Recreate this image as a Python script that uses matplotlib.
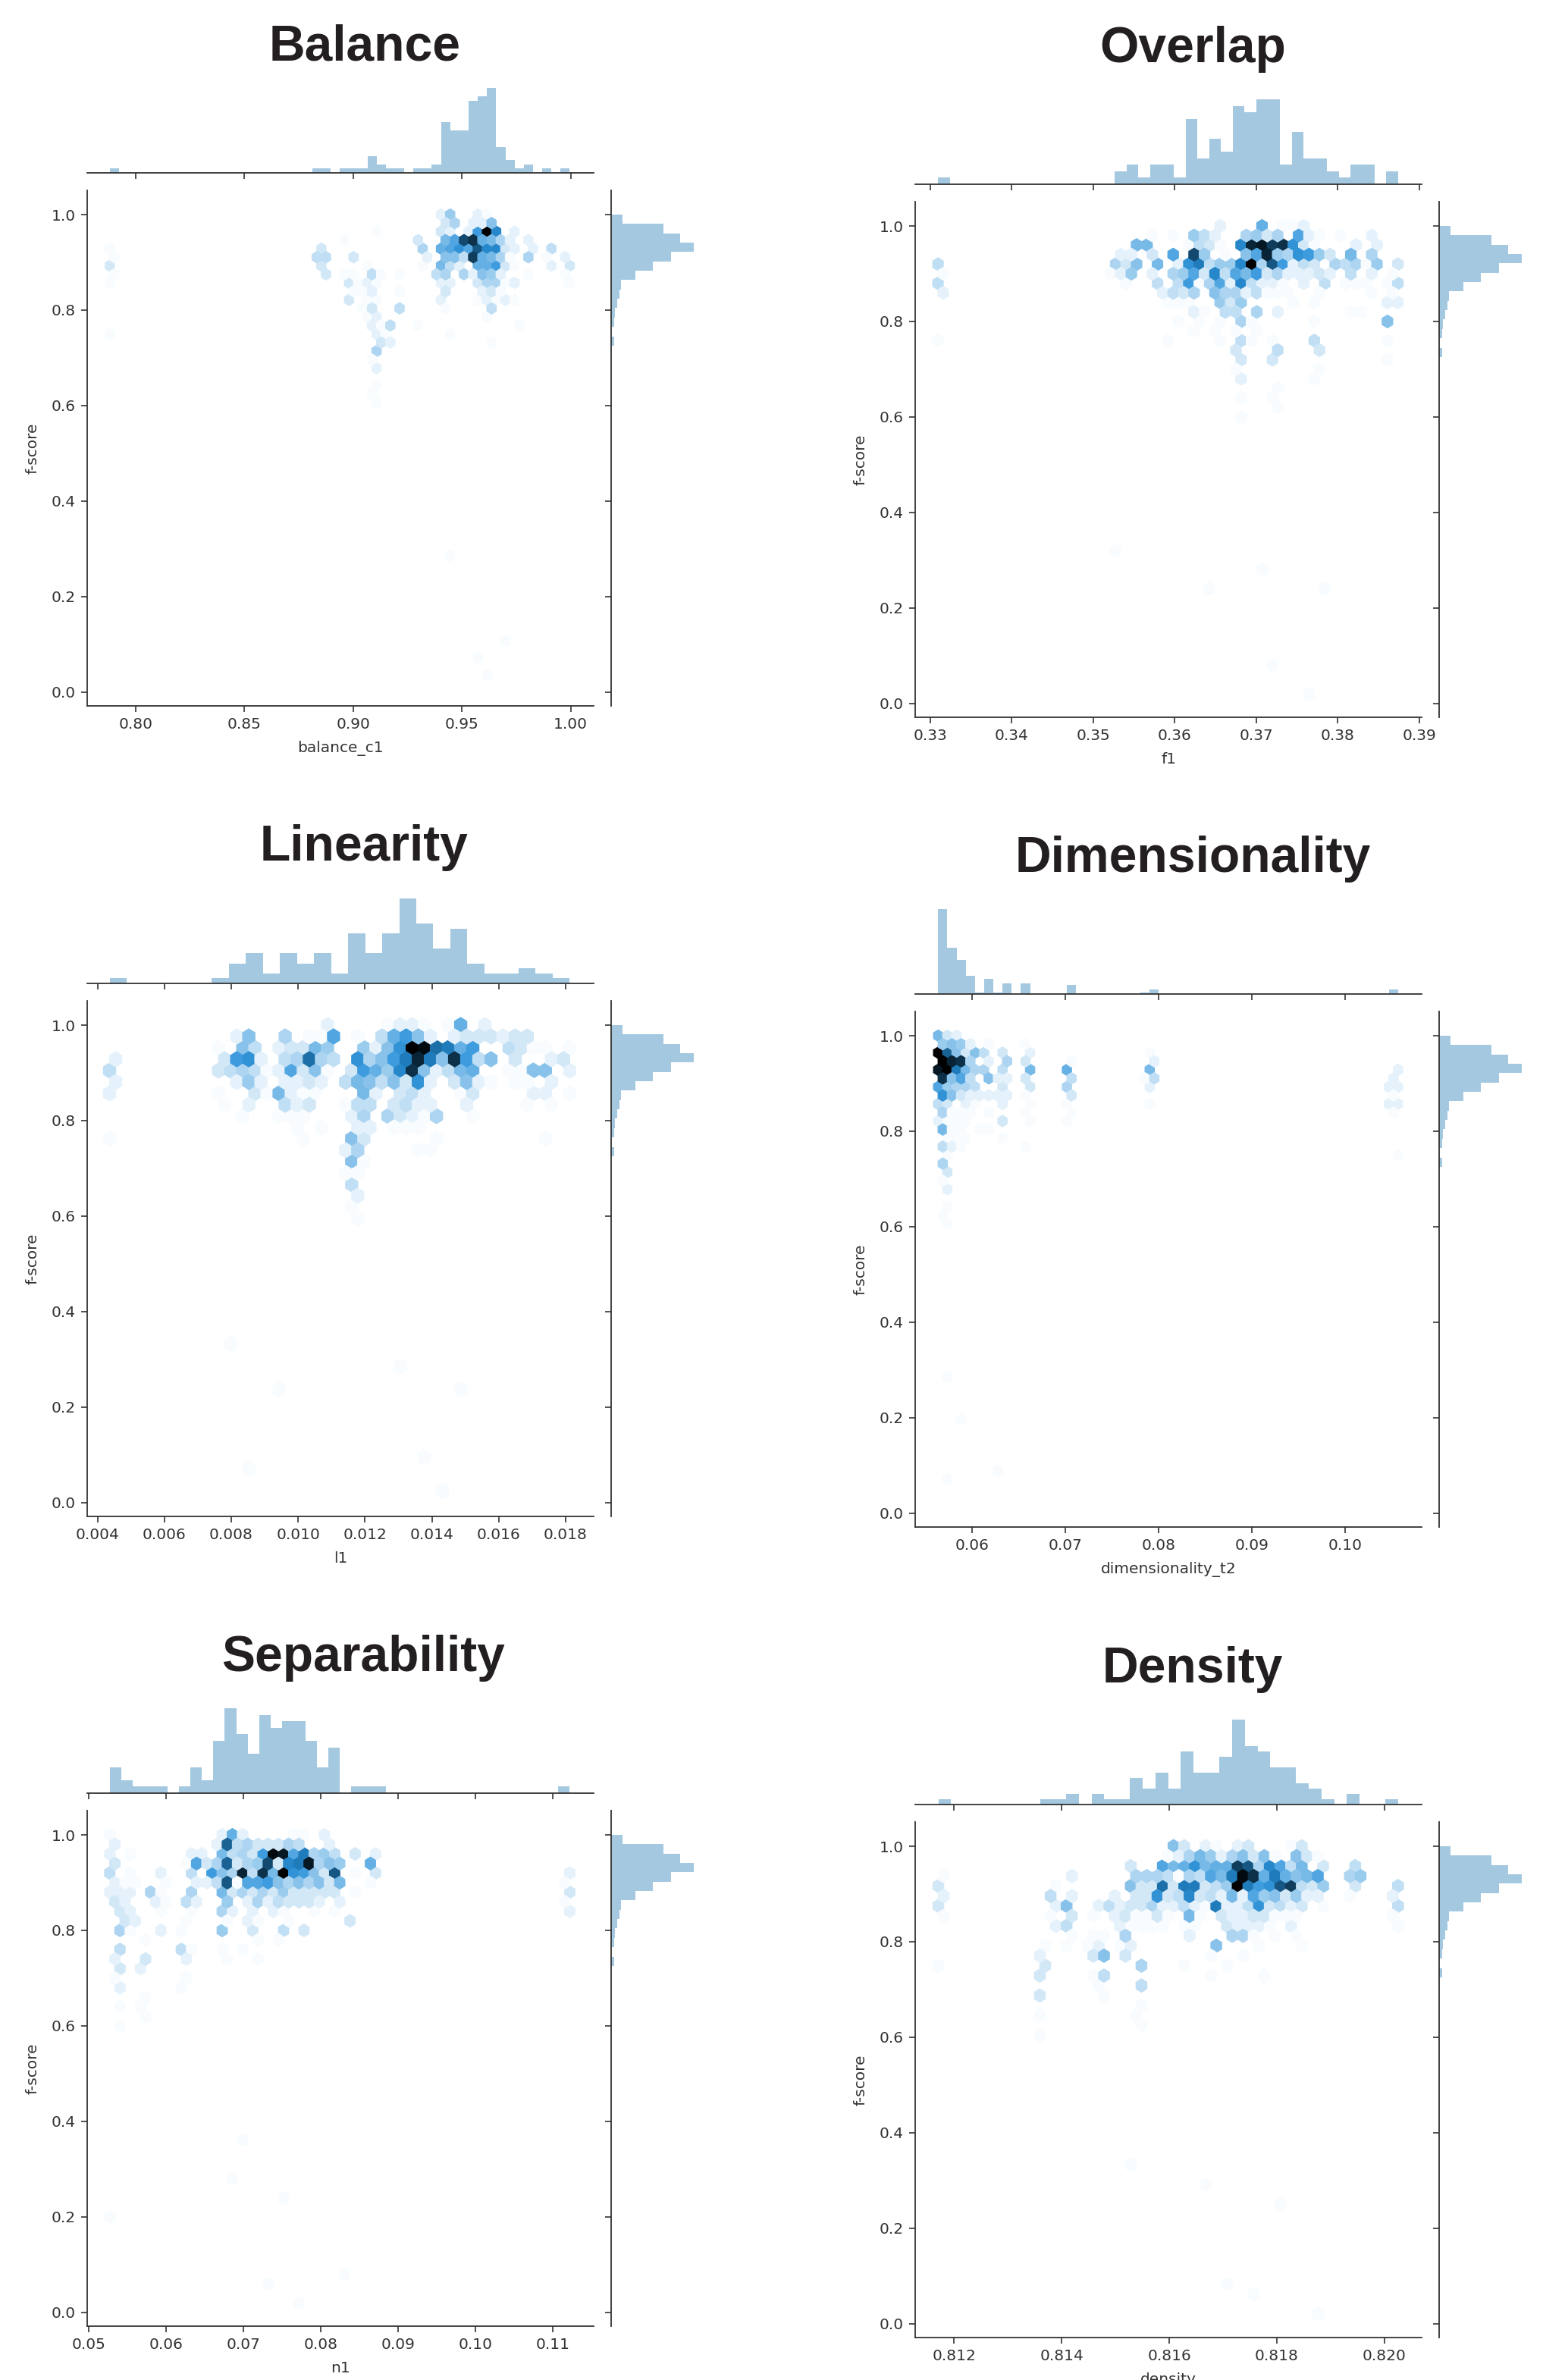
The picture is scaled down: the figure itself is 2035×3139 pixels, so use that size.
import colorsys

import matplotlib
matplotlib.use('Agg')
import matplotlib.pyplot as plt
import numpy as np
from matplotlib.colors import LinearSegmentedColormap, to_rgb

W, H = 2035, 3139
BLUE = '#1f77b4'
INK = '#333333'

# f-score histogram, the same in every panel, bins from 1.0 downwards
fscore_hist = [24, 109, 143, 171, 124, 87, 50, 21, 18, 12, 8, 6, 0, 6]
fscore_bin = 0.0196

# x histograms: counts per bin and the range the bins span
balance_hist = [1, 0, 0, 0, 0, 0, 0, 0, 0, 0, 0, 0, 0, 0, 0, 0, 0, 0, 0, 0, 0, 0, 1, 1, 0, 1, 1, 1, 4, 2,
                1, 1, 0, 1, 1, 2, 12, 10, 10, 17, 18, 20, 6, 3, 1, 2, 0, 1, 0, 1]
balance_range = (0.7882, 0.9996)
overlap_hist = [1, 0, 0, 0, 0, 0, 0, 0, 0, 0, 0, 0, 0, 0, 0, 2, 3, 1, 3, 3, 1, 10, 4, 7, 5, 12, 11, 13, 13, 3,
                8, 4, 4, 2, 1, 3, 3, 0, 2]
overlap_range = (0.33094, 0.38736)
linearity_hist = [1, 0, 0, 0, 0, 0, 1, 4, 6, 2, 6, 4, 6, 2, 10, 6, 10, 17, 12, 7, 11, 4, 2, 2, 3, 2, 1]
linearity_range = (0.00436, 0.01812)
dimension_hist = [57, 31, 23, 12, 1, 10, 1, 7, 0, 7, 0, 0, 0, 0, 6, 0, 0, 0, 0, 0, 0, 0, 1, 3, 0, 0, 0, 0, 0, 0,
                  0, 0, 0, 0, 0, 0, 0, 0, 0, 0, 0, 0, 0, 0, 0, 0, 0, 0, 0, 3]
dimension_range = (0.05637, 0.10567)
separability_hist = [4, 2, 1, 1, 1, 0, 1, 4, 2, 8, 13, 9, 6, 12, 10, 11, 11, 8, 4, 7, 0, 1, 1, 1, 0, 0, 0, 0, 0, 0,
                     0, 0, 0, 0, 0, 0, 0, 0, 0, 1]
separability_range = (0.05269, 0.1122)
density_hist = [1, 0, 0, 0, 0, 0, 0, 0, 1, 1, 2, 0, 2, 1, 1, 5, 3, 6, 3, 10, 6, 6, 9, 16, 11, 10, 7, 7, 4, 3,
                1, 0, 2, 0, 0, 1]
density_range = (0.81171, 0.82025)

# hex cells: hex row counted from f-score 1.0 -> {hex column: count}
balance_cells = {
    0: {36: 2, 37: 6, 40: 2, 41: 1},
    1: {36: 3, 37: 5, 39: 2, 40: 2, 41: 7},
    2: {29: 1, 36: 3, 37: 2, 39: 2, 40: 11, 41: 24, 42: 13, 44: 2},
    3: {25: 1, 33: 3, 36: 8, 37: 10, 38: 18, 39: 20, 40: 9, 41: 8, 42: 5, 43: 2, 45: 2},
    4: {0: 1, 23: 3, 34: 5, 36: 9, 37: 10, 38: 12, 39: 10, 40: 17, 41: 13, 42: 13, 43: 3, 44: 2, 46: 2, 48: 4},
    5: {0: 1, 22: 4, 23: 4, 26: 3, 34: 2, 36: 7, 37: 7, 38: 4, 39: 19, 40: 9, 41: 8, 42: 5, 43: 1, 45: 5, 47: 1, 49: 2},
    6: {0: 3, 23: 3, 28: 1, 34: 1, 36: 8, 37: 4, 38: 2, 40: 9, 41: 9, 42: 11, 43: 3, 44: 1, 48: 2, 50: 3},
    7: {0: 1, 23: 3, 25: 1, 26: 1, 28: 4, 29: 1, 31: 1, 35: 4, 36: 5, 38: 5, 39: 2, 40: 7, 41: 6, 42: 2, 45: 1, 49: 1},
    8: {0: 1, 26: 3, 27: 1, 28: 2, 29: 1, 36: 2, 37: 2, 40: 3, 41: 5, 42: 5, 43: 1, 44: 2, 50: 1},
    9: {26: 1, 27: 1, 28: 2, 31: 1, 36: 3, 40: 2, 41: 3, 42: 1},
    10: {26: 3, 28: 1, 29: 1, 36: 2, 40: 1, 41: 2, 42: 1, 43: 2, 44: 1},
    11: {27: 1, 28: 3, 31: 4, 36: 1, 41: 4},
    12: {28: 1, 29: 2, 41: 1},
    13: {28: 2, 29: 1, 30: 4, 33: 1, 44: 1},
    14: {0: 1, 29: 2, 30: 1, 37: 1},
    15: {29: 3, 30: 2, 41: 1},
    16: {29: 5},
    17: {28: 1},
    18: {29: 2},
    20: {29: 1},
    21: {28: 1},
    22: {29: 1},
    40: {37: 1},
    50: {43: 1},
    52: {40: 1},
    54: {41: 1},
}
overlap_cells = {
    0: {27: 2, 31: 9, 33: 1, 34: 1, 35: 2},
    1: {20: 1, 22: 1, 24: 6, 25: 4, 26: 2, 29: 5, 30: 6, 31: 3, 32: 5, 34: 10, 35: 2, 36: 1, 38: 1, 41: 2},
    2: {19: 8, 20: 8, 24: 1, 25: 4, 26: 3, 27: 1, 29: 13, 30: 21, 31: 22, 32: 19, 33: 20, 34: 12, 35: 3, 36: 1,
        40: 2, 42: 2},
    3: {17: 2, 18: 2, 20: 3, 22: 10, 24: 18, 25: 6, 27: 1, 29: 7, 30: 10, 31: 21, 32: 6, 33: 5, 34: 12, 35: 11,
        36: 6, 37: 3, 39: 8, 41: 5},
    4: {0: 4, 17: 5, 18: 3, 19: 7, 21: 8, 23: 2, 24: 12, 25: 14, 26: 4, 27: 6, 28: 6, 29: 13, 30: 24, 31: 5,
        32: 17, 33: 11, 34: 2, 35: 4, 36: 3, 38: 5, 39: 4, 40: 5, 41: 1, 42: 6, 44: 3},
    5: {0: 1, 16: 1, 17: 2, 18: 6, 20: 2, 22: 5, 23: 6, 24: 10, 25: 3, 26: 13, 27: 4, 28: 10, 29: 8, 30: 11,
        31: 3, 32: 5, 33: 2, 34: 2, 35: 2, 36: 3, 37: 2, 39: 4, 41: 2, 43: 1},
    6: {0: 4, 18: 1, 21: 4, 23: 4, 24: 11, 25: 1, 26: 5, 27: 10, 28: 2, 29: 13, 30: 4, 31: 2, 32: 2, 33: 1,
        35: 2, 37: 4, 39: 1, 40: 1, 41: 1, 43: 1, 44: 4},
    7: {0: 2, 21: 2, 22: 4, 23: 3, 24: 5, 26: 7, 27: 5, 28: 5, 29: 2, 30: 4, 31: 1, 32: 1, 33: 1, 36: 1, 41: 1, 43: 1},
    8: {22: 1, 23: 1, 24: 1, 27: 6, 28: 3, 29: 6, 34: 1, 36: 1, 43: 2, 44: 2},
    9: {24: 2, 25: 1, 27: 4, 28: 4, 30: 5, 32: 2, 39: 1, 40: 1},
    10: {23: 1, 25: 1, 27: 1, 29: 5, 30: 1, 36: 1, 43: 7},
    11: {24: 1, 26: 1, 28: 1, 30: 1},
    12: {0: 1, 22: 1, 27: 1, 29: 4, 30: 1, 32: 1, 36: 4, 43: 1},
    13: {28: 3, 32: 4, 36: 3},
    14: {29: 3, 32: 3, 43: 1},
    15: {28: 1, 36: 1},
    16: {29: 2, 36: 1},
    17: {32: 1},
    18: {29: 1, 32: 1},
    19: {32: 1},
    20: {29: 1},
    34: {17: 1},
    36: {31: 1},
    38: {26: 1, 37: 1},
    46: {32: 1},
    49: {35: 1},
}
linearity_cells = {
    0: {18: 2, 23: 1, 24: 2, 25: 2, 26: 1, 28: 1, 29: 9, 31: 2},
    1: {10: 2, 11: 7, 14: 5, 16: 1, 17: 1, 18: 10, 20: 1, 22: 4, 23: 9, 24: 11, 25: 7, 26: 2, 28: 2, 29: 3, 30: 3,
        31: 3, 32: 2, 33: 3, 34: 3},
    2: {9: 1, 11: 7, 12: 4, 14: 2, 15: 3, 16: 3, 17: 8, 18: 6, 21: 6, 22: 2, 23: 7, 24: 12, 25: 24, 26: 23, 27: 15,
        28: 14, 29: 9, 30: 11, 33: 4, 34: 3, 35: 1, 36: 1, 38: 1},
    3: {0: 2, 9: 3, 10: 11, 11: 12, 12: 2, 14: 4, 15: 5, 16: 15, 17: 5, 18: 4, 20: 12, 21: 5, 22: 7, 23: 11, 24: 14,
        25: 21, 26: 14, 27: 7, 28: 20, 29: 11, 30: 4, 31: 7, 33: 3, 36: 2, 37: 3},
    4: {0: 4, 9: 3, 10: 4, 11: 5, 12: 4, 13: 1, 14: 2, 15: 10, 16: 3, 17: 7, 18: 1, 20: 3, 21: 11, 22: 9, 23: 6,
        24: 13, 25: 20, 26: 7, 27: 2, 28: 4, 29: 8, 30: 9, 33: 1, 34: 1, 35: 7, 36: 7, 38: 2},
    5: {0: 2, 10: 2, 11: 6, 12: 2, 14: 2, 15: 2, 16: 3, 17: 2, 19: 4, 20: 8, 21: 7, 22: 4, 23: 7, 24: 3, 25: 12,
        26: 2, 28: 3, 29: 7, 30: 2, 31: 1, 33: 1, 34: 1, 36: 2},
    6: {0: 2, 9: 1, 12: 3, 13: 1, 14: 8, 15: 2, 16: 1, 17: 1, 21: 8, 22: 2, 24: 3, 25: 4, 26: 2, 29: 1, 30: 3,
        35: 2, 36: 2, 38: 1},
    7: {9: 1, 11: 2, 14: 4, 15: 2, 16: 3, 19: 1, 20: 4, 21: 4, 23: 3, 24: 4, 25: 2, 26: 2, 29: 2, 34: 1, 36: 1},
    8: {11: 1, 14: 1, 15: 1, 16: 1, 20: 2, 21: 5, 23: 5, 24: 3, 25: 2, 26: 1, 27: 5, 30: 1},
    9: {15: 1, 17: 1, 20: 2, 21: 2, 23: 1, 24: 1, 25: 1},
    10: {0: 1, 16: 1, 20: 7, 21: 3, 27: 1, 36: 1},
    11: {19: 2, 20: 5, 25: 1, 26: 1},
    12: {20: 7, 21: 1},
    13: {19: 1, 20: 1},
    14: {20: 4},
    15: {20: 2},
    16: {20: 1},
    17: {20: 1},
    28: {10: 1},
    30: {24: 1},
    32: {14: 1, 29: 1},
    38: {26: 1},
    39: {11: 1},
    41: {27: 1},
}
dimension_cells = {
    0: {0: 8, 1: 3, 2: 2},
    1: {0: 6, 1: 7, 2: 6, 3: 2, 5: 1, 9: 1},
    2: {0: 24, 1: 16, 2: 7, 3: 3, 4: 7, 5: 4, 7: 3, 10: 2, 23: 1},
    3: {0: 24, 1: 21, 2: 20, 3: 5, 5: 2, 7: 5, 9: 3, 14: 1, 23: 2},
    4: {0: 22, 1: 24, 2: 14, 3: 8, 4: 5, 5: 5, 7: 4, 10: 8, 14: 9, 23: 8, 50: 2},
    5: {0: 20, 1: 7, 2: 10, 3: 4, 5: 7, 6: 2, 7: 2, 9: 3, 14: 4, 22: 1, 23: 4, 49: 2},
    6: {0: 10, 1: 6, 2: 5, 3: 5, 4: 4, 7: 3, 10: 3, 14: 5, 23: 2, 49: 2, 50: 2},
    7: {0: 12, 1: 7, 2: 3, 3: 2, 4: 2, 5: 2, 6: 2, 7: 2, 9: 1, 14: 3, 49: 1},
    8: {0: 4, 1: 3, 3: 2, 4: 1, 7: 2, 10: 1, 14: 1, 23: 1, 49: 2, 50: 2},
    9: {0: 5, 1: 1, 2: 1, 3: 1, 5: 1, 9: 1, 14: 1, 49: 1},
    10: {0: 2, 1: 1, 2: 1, 3: 1, 7: 3, 10: 1, 14: 1},
    11: {0: 8, 1: 1, 2: 1, 4: 1, 5: 1},
    12: {1: 1, 2: 1, 3: 1, 7: 1},
    13: {0: 4, 1: 2, 2: 1, 9: 1},
    14: {1: 1, 50: 1},
    15: {0: 5},
    16: {1: 3},
    17: {0: 1},
    18: {1: 2},
    20: {1: 1},
    21: {0: 1},
    22: {1: 1},
    40: {1: 1},
    45: {2: 1},
    51: {6: 1},
    52: {1: 1},
}
separability_cells = {
    0: {0: 1, 11: 2, 12: 9, 13: 2, 18: 1, 19: 1, 21: 2},
    1: {0: 2, 10: 2, 11: 16, 12: 4, 13: 5, 14: 3, 15: 3, 16: 3, 17: 5, 18: 4, 21: 2},
    2: {0: 2, 2: 1, 8: 2, 9: 2, 11: 8, 12: 4, 13: 5, 14: 3, 15: 11, 16: 23, 17: 22, 18: 10, 19: 14, 20: 5, 21: 6,
        22: 4, 24: 3, 26: 2},
    3: {0: 3, 7: 1, 8: 10, 9: 3, 10: 5, 11: 16, 12: 3, 13: 5, 14: 6, 15: 18, 16: 3, 17: 13, 18: 14, 19: 22, 20: 5,
        21: 7, 22: 6, 25: 9},
    4: {0: 4, 2: 1, 5: 2, 8: 4, 10: 11, 11: 7, 12: 5, 13: 21, 14: 4, 15: 20, 16: 8, 17: 24, 18: 12, 19: 11, 20: 7,
        21: 3, 22: 17, 24: 1, 26: 3, 45: 2},
    5: {0: 2, 1: 1, 2: 1, 5: 1, 8: 2, 9: 2, 10: 4, 11: 17, 12: 1, 13: 10, 14: 10, 15: 11, 16: 7, 17: 5, 18: 7,
        19: 5, 20: 7, 21: 3, 22: 8, 25: 1, 44: 1},
    6: {0: 2, 1: 2, 2: 2, 4: 5, 5: 1, 8: 5, 11: 8, 12: 3, 13: 5, 14: 3, 15: 5, 16: 3, 17: 6, 18: 3, 19: 3, 20: 3,
        21: 3, 22: 3, 24: 1, 45: 3},
    7: {0: 3, 1: 2, 4: 2, 5: 1, 7: 4, 8: 2, 11: 6, 13: 2, 14: 5, 15: 2, 16: 4, 17: 3, 18: 3, 19: 3, 20: 2, 22: 2, 44: 1},
    8: {1: 3, 2: 2, 5: 1, 8: 1, 11: 5, 12: 2, 14: 2, 16: 2, 17: 1, 20: 1, 22: 1, 45: 2},
    9: {1: 3, 2: 2, 7: 1, 11: 1, 13: 2, 14: 1, 17: 1, 23: 3},
    10: {1: 5, 2: 1, 5: 2, 7: 1, 11: 6, 14: 3, 17: 4, 19: 3},
    11: {3: 1, 14: 1, 16: 1},
    12: {1: 4, 7: 4, 8: 1, 11: 1, 13: 1},
    13: {0: 2, 3: 3, 7: 2, 11: 1, 14: 1},
    14: {1: 3, 3: 2},
    15: {0: 1, 7: 1},
    16: {1: 2, 7: 1},
    17: {3: 1},
    18: {1: 1, 3: 1},
    19: {3: 1},
    20: {1: 1},
    32: {13: 1},
    36: {12: 1},
    38: {17: 1},
    40: {0: 1},
    46: {23: 1},
    47: {15: 1},
    49: {18: 1},
}
density_cells = {
    0: {22: 7, 23: 3, 25: 2, 26: 1, 28: 2, 29: 3, 33: 1, 34: 3},
    1: {21: 1, 22: 2, 23: 5, 24: 8, 25: 6, 26: 2, 27: 5, 28: 7, 29: 3, 30: 7, 31: 1, 33: 7, 34: 3, 35: 1},
    2: {18: 3, 21: 10, 22: 8, 23: 9, 24: 12, 25: 8, 26: 9, 27: 9, 28: 19, 29: 17, 30: 5, 31: 13, 32: 10, 33: 4,
        34: 8, 36: 3, 39: 4},
    3: {0: 1, 12: 2, 18: 5, 19: 5, 20: 5, 21: 4, 22: 1, 23: 5, 24: 4, 25: 10, 26: 8, 27: 14, 28: 23, 29: 20, 30: 9,
        31: 14, 32: 9, 33: 7, 34: 8, 35: 10, 38: 5, 39: 6},
    4: {0: 3, 11: 1, 18: 7, 19: 3, 20: 3, 21: 15, 22: 3, 23: 14, 24: 14, 25: 3, 26: 4, 27: 6, 28: 24, 29: 14, 30: 11,
        31: 12, 32: 17, 33: 19, 34: 4, 35: 3, 36: 6, 39: 3, 43: 4},
    5: {0: 2, 10: 4, 12: 2, 16: 2, 18: 3, 19: 3, 20: 12, 21: 3, 22: 4, 23: 13, 24: 3, 25: 4, 26: 2, 27: 8, 28: 2,
        29: 10, 30: 6, 31: 7, 32: 3, 33: 6, 34: 2, 35: 2, 38: 1, 42: 2},
    6: {0: 3, 11: 2, 12: 7, 15: 2, 16: 4, 17: 2, 18: 3, 19: 3, 20: 5, 21: 2, 22: 2, 23: 4, 24: 2, 25: 1, 26: 14,
        27: 2, 28: 2, 29: 4, 30: 12, 31: 3, 32: 4, 33: 2, 34: 3, 36: 1, 43: 4},
    7: {0: 1, 10: 1, 12: 3, 14: 1, 16: 2, 17: 3, 18: 1, 19: 1, 20: 3, 21: 1, 23: 8, 24: 1, 26: 3, 27: 2, 28: 2,
        29: 3, 30: 3, 31: 1, 32: 1, 33: 1, 42: 1},
    8: {11: 2, 12: 4, 17: 2, 18: 1, 19: 1, 20: 1, 21: 1, 23: 1, 24: 1, 27: 3, 28: 2, 29: 2, 30: 2, 31: 1, 33: 2, 43: 1},
    9: {12: 1, 14: 1, 15: 1, 17: 5, 23: 2, 27: 5, 28: 5, 29: 1, 31: 1, 33: 1},
    10: {10: 1, 12: 1, 14: 1, 15: 2, 17: 1, 18: 2, 26: 7, 30: 1, 34: 1},
    11: {9: 2, 14: 3, 15: 7, 17: 3, 25: 1, 28: 1},
    12: {0: 1, 10: 3, 19: 5, 23: 1, 27: 1},
    13: {9: 3, 14: 1, 15: 4, 25: 1, 30: 1},
    14: {15: 1, 19: 4},
    15: {9: 3, 15: 1},
    16: {19: 1},
    17: {9: 1, 18: 1},
    18: {19: 1},
    19: {9: 1},
    32: {18: 1},
    34: {25: 1},
    36: {32: 1},
    44: {27: 1},
    45: {29: 1},
    47: {35: 1},
}

# x limits and ticks
balance_xlim = (0.7778, 1.0106)
balance_ticks = [0.80, 0.85, 0.90, 0.95, 1.00]
balance_labels = ['0.80', '0.85', '0.90', '0.95', '1.00']
overlap_xlim = (0.32814, 0.39028)
overlap_ticks = [0.33, 0.34, 0.35, 0.36, 0.37, 0.38, 0.39]
overlap_labels = ['0.33', '0.34', '0.35', '0.36', '0.37', '0.38', '0.39']
linearity_xlim = (0.00369, 0.01884)
linearity_ticks = [0.004, 0.006, 0.008, 0.010, 0.012, 0.014, 0.016, 0.018]
linearity_labels = ['0.004', '0.006', '0.008', '0.010', '0.012', '0.014', '0.016', '0.018']
dimension_xlim = (0.05391, 0.1082)
dimension_ticks = [0.06, 0.07, 0.08, 0.09, 0.10]
dimension_labels = ['0.06', '0.07', '0.08', '0.09', '0.10']
separability_xlim = (0.04977, 0.1153)
separability_ticks = [0.05, 0.06, 0.07, 0.08, 0.09, 0.10, 0.11]
separability_labels = ['0.05', '0.06', '0.07', '0.08', '0.09', '0.10', '0.11']
density_xlim = (0.81128, 0.82069)
density_ticks = [0.812, 0.814, 0.816, 0.818, 0.820]
density_labels = ['0.812', '0.814', '0.816', '0.818', '0.820']

fscore_ticks = [0.0, 0.2, 0.4, 0.6, 0.8, 1.0]
fscore_labels = ['0.0', '0.2', '0.4', '0.6', '0.8', '1.0']

# white -> blue -> black, the way seaborn builds its hex colormap
h, l, s = colorsys.rgb_to_hls(*to_rgb(BLUE))
hex_cmap = LinearSegmentedColormap.from_list(
    'hexblue', [colorsys.hls_to_rgb(h, v, s) for v in np.linspace(1, 0, 12)])


def add_ax(fig, left, top, right, bottom):
    return fig.add_axes([left / W, 1 - bottom / H, (right - left) / W, (bottom - top) / H])


def style_ax(ax, keep):
    for side in ['top', 'right', 'left', 'bottom']:
        ax.spines[side].set_visible(side in keep)
        ax.spines[side].set_linewidth(1.3)
        ax.spines[side].set_color(INK)
    ax.tick_params(length=5.8, width=1.2, color=INK, labelcolor=INK, labelsize=14.5, pad=5)


def draw_panel(fig, title, title_xy, left, top, xlabel, hist, hist_range, cells, gridsize,
               xlim, ticks, tick_labels):
    right = left + 668
    bottom = top + 680
    base = top - 23

    fig.text(title_xy[0] / W, 1 - title_xy[1] / H, title, ha='center', va='baseline',
             family='Liberation Sans', weight='bold', fontsize=47.5, color='#231f20')

    # main hexbin
    ax = add_ax(fig, left, top, right, bottom)
    ny = int(gridsize / np.sqrt(3))
    xs, ys, counts = [], [], []
    sx = (hist_range[1] - hist_range[0]) / gridsize
    for row, cols in cells.items():
        for col, count in cols.items():
            xs.append(hist_range[0] + (col + 0.5 * (row % 2)) * sx)
            ys.append(1 - row / (2 * ny))
            counts.append(count)
    ax.hexbin(xs, ys, C=counts, reduce_C_function=np.sum, gridsize=gridsize,
              extent=(hist_range[0], hist_range[1], 0, 1), cmap=hex_cmap, vmin=0.6, vmax=24)
    ax.set_xlim(xlim)
    ax.set_ylim(-0.0286, 1.0508)
    ax.set_xticks(ticks, tick_labels)
    ax.set_yticks(fscore_ticks, fscore_labels)
    ax.set_xlabel(xlabel, fontsize=14.5, color=INK)
    ax.set_ylabel('f-score', fontsize=14.5, color=INK)
    ax.xaxis.set_label_coords(0.5, -0.068)
    ax.yaxis.set_label_coords(-0.094, 0.5)
    style_ax(ax, ['left', 'bottom'])

    # top histogram
    top_ax = add_ax(fig, left, base - 118, right, base)
    edges = np.linspace(hist_range[0], hist_range[1], len(hist) + 1)
    top_ax.stairs(hist, edges, fill=True, color=BLUE, alpha=0.4, linewidth=0)
    top_ax.set_xlim(xlim)
    top_ax.set_ylim(0, max(hist) * 118 / 112)
    top_ax.set_xticks(ticks, [])
    top_ax.set_yticks([])
    style_ax(top_ax, ['bottom'])

    # right histogram
    side_ax = add_ax(fig, right + 23, top, right + 23 + 114, bottom)
    y_edges = 1 - fscore_bin * np.arange(len(fscore_hist) + 1)
    side_ax.stairs(fscore_hist[::-1], y_edges[::-1], fill=True, orientation='horizontal',
                   color=BLUE, alpha=0.4, linewidth=0)
    side_ax.set_ylim(-0.0286, 1.0508)
    side_ax.set_xlim(0, max(fscore_hist) * 114 / 109)
    side_ax.set_yticks(fscore_ticks, [])
    side_ax.set_xticks([])
    style_ax(side_ax, ['left'])


fig = plt.figure(figsize=(W / 100, H / 100), dpi=100)

draw_panel(fig, 'Balance', (481, 80), 115, 251, 'balance_c1', balance_hist, balance_range,
           balance_cells, 50, balance_xlim, balance_ticks, balance_labels)
draw_panel(fig, 'Overlap', (1573, 82), 1207, 266, 'f1', overlap_hist, overlap_range,
           overlap_cells, 44, overlap_xlim, overlap_ticks, overlap_labels)
draw_panel(fig, 'Linearity', (480, 1135), 115, 1320, 'l1', linearity_hist, linearity_range,
           linearity_cells, 38, linearity_xlim, linearity_ticks, linearity_labels)
draw_panel(fig, 'Dimensionality', (1573, 1150), 1207, 1334, 'dimensionality_t2', dimension_hist, dimension_range,
           dimension_cells, 50, dimension_xlim, dimension_ticks, dimension_labels)
draw_panel(fig, 'Separability', (479, 2204), 115, 2388, 'n1', separability_hist, separability_range,
           separability_cells, 45, separability_xlim, separability_ticks, separability_labels)
draw_panel(fig, 'Density', (1573, 2219), 1207, 2403, 'density', density_hist, density_range,
           density_cells, 43, density_xlim, density_ticks, density_labels)

plt.savefig('out.png', dpi=100)
